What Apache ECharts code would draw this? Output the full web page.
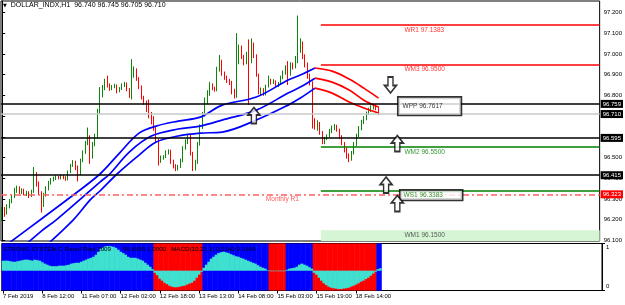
<!DOCTYPE html>
<html>
<head>
<meta charset="UTF-8">
<title>DOLLAR_INDX,H1</title>
<script src="https://cdn.jsdelivr.net/npm/echarts@6/dist/echarts.min.js"></script>
<style>
  html, body { margin: 0; padding: 0; background: #fff; }
  #main { width: 625px; height: 305px; }
</style>
</head>
<body>
<div id="main"></div>
<script type="text/javascript">
// time labels on the bottom axis, keyed by bar number
var timeLabels = {
  0: '7 Feb 2019', 16: '8 Feb 12:00', 32: '11 Feb 07:00', 48: '12 Feb 02:00',
  64: '12 Feb 18:00', 80: '13 Feb 13:00', 96: '14 Feb 08:00', 112: '15 Feb 03:00',
  128: '15 Feb 19:00', 144: '18 Feb 14:00'
};

// H1 candles: [open, close, low, high]
var bars = [
  [96.205,96.240,96.195,96.262],[96.240,96.230,96.215,96.262],[96.230,96.262,96.225,96.275],[96.262,96.290,96.255,96.300],
  [96.290,96.310,96.280,96.322],[96.310,96.340,96.305,96.355],[96.340,96.355,96.330,96.365],[96.355,96.335,96.325,96.362],
  [96.335,96.345,96.325,96.352],[96.345,96.325,96.318,96.350],[96.325,96.330,96.315,96.340],[96.330,96.318,96.305,96.338],
  [96.318,96.335,96.310,96.345],[96.335,96.420,96.330,96.455],[96.420,96.375,96.360,96.430],[96.375,96.330,96.320,96.385],
  [96.330,96.275,96.235,96.338],[96.275,96.320,96.262,96.330],[96.320,96.350,96.312,96.362],[96.350,96.378,96.342,96.388],
  [96.378,96.392,96.370,96.402],[96.392,96.398,96.385,96.408],[96.398,96.405,96.392,96.415],[96.405,96.400,96.395,96.412],
  [96.400,96.410,96.395,96.418],[96.410,96.402,96.396,96.416],[96.402,96.395,96.388,96.410],[96.395,96.430,96.390,96.438],
  [96.430,96.462,96.425,96.470],[96.462,96.475,96.455,96.488],[96.475,96.450,96.440,96.485],[96.450,96.420,96.385,96.462],
  [96.420,96.485,96.415,96.495],[96.485,96.525,96.478,96.535],[96.525,96.570,96.518,96.580],[96.570,96.600,96.560,96.645],
  [96.600,96.500,96.470,96.608],[96.500,96.565,96.495,96.575],[96.565,96.600,96.555,96.615],[96.600,96.720,96.590,96.735],
  [96.720,96.800,96.712,96.840],[96.800,96.835,96.790,96.850],[96.835,96.865,96.825,96.880],[96.865,96.845,96.838,96.895],
  [96.845,96.830,96.822,96.858],[96.830,96.842,96.825,96.850],[96.842,96.848,96.835,96.856],[96.848,96.822,96.810,96.852],
  [96.822,96.832,96.815,96.840],[96.832,96.848,96.826,96.858],[96.848,96.858,96.840,96.865],[96.858,96.828,96.820,96.862],
  [96.828,96.795,96.788,96.835],[96.795,96.895,96.780,96.975],[96.895,96.925,96.885,96.940],[96.925,96.880,96.870,96.930],
  [96.880,96.840,96.830,96.888],[96.840,96.790,96.780,96.848],[96.790,96.768,96.755,96.798],[96.768,96.730,96.720,96.775],
  [96.730,96.712,96.690,96.780],[96.712,96.690,96.660,96.720],[96.690,96.640,96.630,96.700],[96.640,96.580,96.570,96.650],
  [96.580,96.480,96.462,96.590],[96.480,96.500,96.475,96.510],[96.500,96.505,96.490,96.512],[96.505,96.525,96.498,96.535],
  [96.525,96.530,96.515,96.540],[96.530,96.480,96.470,96.538],[96.480,96.460,96.448,96.490],[96.460,96.445,96.435,96.468],
  [96.445,96.458,96.438,96.465],[96.458,96.485,96.450,96.495],[96.485,96.545,96.478,96.555],[96.545,96.575,96.538,96.588],
  [96.575,96.605,96.565,96.615],[96.605,96.520,96.510,96.612],[96.520,96.445,96.435,96.528],[96.445,96.475,96.438,96.490],
  [96.475,96.565,96.470,96.575],[96.565,96.645,96.558,96.660],[96.645,96.705,96.638,96.720],[96.705,96.765,96.698,96.790],
  [96.765,96.805,96.758,96.825],[96.805,96.850,96.798,96.865],[96.850,96.832,96.825,96.858],[96.832,96.825,96.818,96.842],
  [96.825,96.925,96.820,96.938],[96.925,96.965,96.915,96.995],[96.965,96.905,96.895,96.972],[96.905,96.885,96.875,96.915],
  [96.885,96.872,96.860,96.895],[96.872,96.862,96.850,96.880],[96.862,96.822,96.805,96.870],[96.822,96.795,96.785,96.832],
  [96.795,96.955,96.788,97.100],[96.955,97.030,96.950,97.045],[97.030,96.985,96.975,97.040],[96.985,96.960,96.945,96.995],
  [96.960,96.995,96.950,97.010],[96.995,96.960,96.755,97.070],[96.960,97.045,96.955,97.075],[97.045,96.990,96.980,97.055],
  [96.990,96.900,96.890,96.998],[96.900,96.820,96.805,96.905],[96.820,96.825,96.800,96.838],[96.825,96.805,96.798,96.835],
  [96.805,96.845,96.800,96.852],[96.845,96.870,96.838,96.895],[96.870,96.862,96.852,96.880],[96.862,96.868,96.855,96.878],
  [96.868,96.850,96.842,96.872],[96.850,96.858,96.840,96.865],[96.858,96.885,96.850,96.895],[96.885,96.910,96.878,96.920],
  [96.910,96.930,96.900,96.945],[96.930,96.900,96.850,96.965],[96.900,96.950,96.895,96.960],[96.950,96.935,96.925,96.958],
  [96.935,96.965,96.930,96.990],[96.965,97.020,96.955,97.185],[97.020,97.050,97.005,97.075],[97.050,96.990,96.975,97.060],
  [96.990,96.950,96.935,96.998],[96.950,96.895,96.880,96.958],[96.895,96.862,96.848,96.905],[96.862,96.660,96.640,96.868],
  [96.660,96.645,96.635,96.690],[96.645,96.665,96.630,96.680],[96.665,96.620,96.610,96.672],[96.620,96.580,96.565,96.628],
  [96.580,96.592,96.565,96.600],[96.592,96.605,96.585,96.612],[96.605,96.625,96.598,96.638],[96.625,96.642,96.618,96.655],
  [96.642,96.650,96.632,96.662],[96.650,96.632,96.625,96.658],[96.632,96.600,96.590,96.640],[96.600,96.570,96.560,96.608],
  [96.570,96.540,96.525,96.575],[96.540,96.510,96.495,96.548],[96.510,96.500,96.478,96.520],[96.500,96.525,96.485,96.532],
  [96.525,96.565,96.515,96.575],[96.565,96.605,96.555,96.615],[96.605,96.640,96.598,96.652],[96.640,96.670,96.632,96.682],
  [96.670,96.690,96.662,96.700],[96.690,96.712,96.680,96.722],[96.712,96.728,96.705,96.740],[96.728,96.742,96.720,96.752],
  [96.742,96.748,96.732,96.758],[96.748,96.740,96.728,96.756],[96.740,96.710,96.705,96.745]
];

// moving-average envelope as [bar, price]
var upperUp = [[0,96.064],[16,96.204],[28,96.310],[40,96.421],[48,96.522],[56,96.618],[63,96.652],[72,96.676],[81,96.695],[90,96.753],[104,96.792],[117,96.874],[122,96.898],[128,96.932]];
var upperDown = [[128,96.932],[135,96.917],[142,96.879],[148,96.835],[154,96.787]];
var middleUp = [[0,95.980],[16,96.146],[22,96.199],[40,96.382],[44,96.421],[52,96.527],[61,96.604],[72,96.638],[81,96.652],[90,96.681],[104,96.729],[117,96.811],[122,96.840],[128,96.883]];
var middleDown = [[128,96.883],[135,96.864],[142,96.826],[148,96.777],[154,96.744]];
var lowerUp = [[0,95.890],[16,96.055],[29,96.199],[36,96.296],[40,96.339],[47,96.421],[56,96.512],[63,96.575],[72,96.604],[81,96.618],[90,96.623],[104,96.681],[117,96.753],[122,96.787],[128,96.835]];
var lowerDown = [[128,96.835],[135,96.811],[142,96.768],[148,96.739],[154,96.715]];

// weekly pivots
var pivotNames = ['WR1', 'WM3', 'WPP', 'WM2', 'WS1', 'WM1'];
var pivotValues = [97.1383, 96.9500, 96.7617, 96.5500, 96.3383, 96.1500];
var weekStart = 130.4;           // bar where the weekly levels begin
var hLines = [96.759, 96.595, 96.415];
var bidPrice = 96.710;
var monthlyR1 = 96.323;
var upArrows = [[103.0, 96.703], [161.7, 96.568], [157.1, 96.368], [161.7, 96.279]];
var downArrows = [[158.9, 96.850]];

// lower window: trend blocks (1 blue / -1 red) as runs [first, last, sign] and MACD values
var trendRuns = [[0, 61, 1], [62, 81, -1], [82, 108, 1], [109, 115, -1], [116, 126, 1], [127, 152, -1], [153, 154, 1]];
var macd = [
  0.058,0.058,0.058,0.055,0.052,0.052,0.055,0.058,0.061,0.064,
  0.064,0.061,0.058,0.064,0.061,0.058,0.049,0.041,0.035,0.029,
  0.026,0.026,0.026,0.029,0.029,0.029,0.032,0.035,0.041,0.044,
  0.046,0.046,0.052,0.058,0.064,0.070,0.075,0.081,0.093,0.110,
  0.128,0.136,0.142,0.143,0.142,0.139,0.133,0.122,0.110,0.102,
  0.093,0.081,0.075,0.075,0.075,0.070,0.064,0.058,0.046,0.035,
  0.023,0.009,-0.012,-0.026,-0.046,-0.058,-0.070,-0.078,-0.087,-0.093,
  -0.096,-0.096,-0.093,-0.090,-0.087,-0.081,-0.075,-0.070,-0.058,-0.041,
  -0.023,-0.006,0.017,0.035,0.052,0.070,0.081,0.093,0.102,0.107,
  0.110,0.107,0.102,0.096,0.090,0.084,0.081,0.075,0.070,0.064,
  0.058,0.052,0.046,0.041,0.032,0.023,0.017,0.012,0.003,-0.003,
  -0.003,-0.003,-0.003,-0.003,-0.003,-0.003,0.006,0.012,0.015,0.017,
  0.023,0.035,0.041,0.035,0.029,0.020,0.012,-0.012,-0.023,-0.041,
  -0.058,-0.073,-0.084,-0.093,-0.099,-0.102,-0.104,-0.107,-0.107,-0.104,
  -0.102,-0.099,-0.093,-0.087,-0.081,-0.073,-0.064,-0.058,-0.049,-0.041,
  -0.029,-0.017,-0.006,0.009,0.014
];
var priceTicks = [96.1, 96.2, 96.3, 96.4, 96.5, 96.6, 96.7, 96.8, 96.9, 97.0, 97.1, 97.2];

var SLOTS = 245;   // bars plus the empty chart shift on the right
var FONT = 'Liberation Sans';
var categories = [];
for (var k = 0; k < SLOTS; k++) categories.push(String(k));

var trend = [];
trendRuns.forEach(function (r) {
  for (var b = r[0]; b <= r[1]; b++) trend[b] = r[2];
});
var blocks = trend.map(function (t) {
  return { value: 1, itemStyle: { color: t > 0 ? '#0000ff' : '#ff0000' } };
});

var pivotStyle = {
  WR1: { color: '#ff0000', line: true },
  WM3: { color: '#ff0000', line: true },
  WPP: { color: '#000000', line: false },
  WM2: { color: '#008000', line: true },
  WS1: { color: '#008000', line: true },
  WM1: { color: '#333333', line: false }
};

function axisTag(text, bg) {
  return { show: true, position: 'end', distance: 1, formatter: text,
    backgroundColor: bg, color: '#fff', padding: [1, 2], fontSize: 6, fontFamily: FONT };
}

var markLines = [];
hLines.forEach(function (v) {
  markLines.push({ yAxis: v, lineStyle: { color: '#000', width: 1.6, type: 'solid' }, label: axisTag(v.toFixed(3), '#000') });
});
markLines.push({ yAxis: bidPrice, lineStyle: { color: '#c8c8c8', width: 1.5, type: 'solid' }, label: axisTag(bidPrice.toFixed(3), '#000') });
markLines.push({ yAxis: monthlyR1, lineStyle: { color: '#ff6060', width: 1.5, type: [6, 3, 2, 3] }, label: axisTag(monthlyR1.toFixed(3), '#ff0000') });
pivotNames.forEach(function (n, k) {
  if (!pivotStyle[n].line) return;
  markLines.push([
    { coord: [weekStart, pivotValues[k]], lineStyle: { color: pivotStyle[n].color, width: 1.5, type: 'solid' }, label: { show: false } },
    { coord: [SLOTS - 0.5, pivotValues[k]] }
  ]);
});

var pivotLabels = pivotNames.map(function (n, k) {
  var item = {
    name: n,
    value: [164.6, pivotValues[k]],
    label: { color: pivotStyle[n].color, offset: [0, 4.5] }
  };
  if (n === 'WPP') {
    item.value = [162.2, pivotValues[k]];
    item.label = { color: '#000', offset: [0, 2.8], backgroundColor: '#fff', borderColor: '#000',
      borderWidth: 1.6, padding: [5, 18, 5, 4] };
  }
  if (n === 'WS1') {
    item.value = [163.0, pivotValues[k]];
    item.label = { color: '#008000', offset: [0, 4], backgroundColor: '#fff', borderColor: '#000',
      borderWidth: 1.6, padding: [1, 19, 1, 3] };
  }
  return item;
});
pivotLabels.push({
  name: 'Monthly R1',
  value: [107.9, monthlyR1],
  label: { color: '#ff3030', offset: [0, 4.5], formatter: 'Monthly R1' }
});

var upPath = 'path://M6,0 L12,7 L8.5,7 L8.5,15 L3.5,15 L3.5,7 L0,7 Z';
var downPath = 'path://M3.5,0 L8.5,0 L8.5,8 L12,8 L6,15 L0,8 L3.5,8 Z';

function envelope(data, color) {
  return {
    type: 'line', xAxisIndex: 1, yAxisIndex: 0, data: data, smooth: 0.35,
    showSymbol: false, symbol: 'none', silent: true, z: 3,
    lineStyle: { color: color, width: 1.7 }
  };
}

var labelEvery = function (index) { return timeLabels[index] !== undefined; };

var myChart = echarts.init(document.getElementById('main'));
var option = {
  animation: false,
  backgroundColor: '#fff',
  textStyle: { fontFamily: FONT },
  title: [
    {
      text: '{t|▼}  DOLLAR_INDX,H1  96.740 96.745 96.705 96.710',
      left: 3, top: 2, padding: 0,
      textStyle: { fontSize: 7, fontWeight: 'normal', color: '#000', fontFamily: FONT,
        rich: { t: { fontSize: 5, fontFamily: 'DejaVu Sans', color: '#000' } } }
    },
    {
      text: 'STRONG SYSTEM C Raouf Riad 2009       96.6569 1.0000   MACD(10,21,1) 0.0140 0.0140',
      left: 3, top: 246.5, padding: 0,
      textStyle: { fontSize: 6.2, fontWeight: 'normal', color: '#000', fontFamily: FONT }
    }
  ],
  grid: [
    { left: 1, top: 1, width: 601, height: 240, show: true, borderColor: '#000', borderWidth: 1 },
    { left: 1, top: 243.5, width: 601, height: 47, show: true, borderColor: '#000', borderWidth: 1 }
  ],
  xAxis: [
    { type: 'category', gridIndex: 0, data: categories, boundaryGap: true, show: false },
    { type: 'value', gridIndex: 0, min: -0.5, max: SLOTS - 0.5, show: false },
    {
      type: 'category', gridIndex: 1, data: categories, boundaryGap: true,
      axisLine: { show: true, lineStyle: { color: '#000', width: 1 } },
      axisTick: { show: true, alignWithLabel: true, interval: labelEvery, length: 3, lineStyle: { color: '#000' } },
      axisLabel: {
        interval: labelEvery, align: 'left', margin: 3, fontSize: 6, color: '#000', fontFamily: FONT,
        formatter: function (value, index) { return timeLabels[index] || ''; }
      },
      splitLine: { show: false }
    }
  ],
  yAxis: [
    {
      type: 'value', gridIndex: 0, position: 'right', min: 96.098, max: 97.255, scale: true,
      splitLine: { show: false },
      axisLine: { show: true, lineStyle: { color: '#000' } },
      axisTick: { show: true, length: 3, customValues: priceTicks, lineStyle: { color: '#000' } },
      axisLabel: { customValues: priceTicks, margin: 4, fontSize: 6, color: '#000', fontFamily: FONT,
        formatter: function (v) { return v.toFixed(3); } }
    },
    {
      type: 'value', gridIndex: 1, position: 'right', min: 0, max: 1,
      splitLine: { show: false },
      axisLine: { show: true, lineStyle: { color: '#000' } },
      axisTick: { show: true, length: 3, customValues: [0, 1], lineStyle: { color: '#000' } },
      axisLabel: {
        customValues: [0, 1], margin: 4, fontSize: 6, color: '#000', fontFamily: FONT,
        formatter: function (v) { return v > 0.5 ? '{t|1}' : '{b|0}'; },
        rich: { t: { padding: [8, 0, 0, 0], fontSize: 6 }, b: { padding: [0, 0, 8, 0], fontSize: 6 } }
      }
    },
    { type: 'value', gridIndex: 1, min: -0.115, max: 0.158, show: false, splitLine: { show: false } }
  ],
  series: [
    {
      type: 'candlestick', xAxisIndex: 0, yAxisIndex: 0, data: bars, barWidth: 1, z: 2, silent: true,
      itemStyle: { color: '#0a870a', color0: '#ff0000', borderColor: '#0a870a', borderColor0: '#ff0000', borderWidth: 1 }
    },
    envelope(upperUp, '#0000ff'), envelope(middleUp, '#0000ff'), envelope(lowerUp, '#0000ff'),
    envelope(upperDown, '#ff0000'), envelope(middleDown, '#ff0000'), envelope(lowerDown, '#ff0000'),
    {
      type: 'scatter', xAxisIndex: 1, yAxisIndex: 0, data: pivotLabels, symbolSize: 0, z: 6, silent: true,
      label: {
        show: true, position: 'right', distance: 0, fontSize: 6.5, fontFamily: FONT,
        formatter: function (p) { return p.name + ' ' + p.value[1].toFixed(4); }
      },
      markLine: { symbol: 'none', silent: true, z: 4, precision: 4, data: markLines },
      markArea: {
        silent: true, z: 1,
        itemStyle: { color: '#d5f5d5' },
        data: [[{ coord: [weekStart, pivotValues[5]] }, { coord: [SLOTS - 0.5, 96.098] }]]
      }
    },
    {
      type: 'scatter', xAxisIndex: 1, yAxisIndex: 0, data: upArrows, symbol: upPath, symbolSize: [12, 16], z: 7, silent: true,
      itemStyle: { color: '#fff', borderColor: '#000', borderWidth: 1.6 }
    },
    {
      type: 'scatter', xAxisIndex: 1, yAxisIndex: 0, data: downArrows, symbol: downPath, symbolSize: [12, 16], z: 7, silent: true,
      itemStyle: { color: '#fff', borderColor: '#000', borderWidth: 1.6 }
    },
    {
      type: 'bar', xAxisIndex: 2, yAxisIndex: 1, data: blocks, barWidth: 3, barGap: '-100%', silent: true, z: 2
    },
    {
      type: 'bar', xAxisIndex: 2, yAxisIndex: 2, data: macd, barWidth: 3, barGap: '-100%', silent: true, z: 3,
      itemStyle: { color: '#40e0d0' }
    }
  ]
};
myChart.setOption(option);
</script>
</body>
</html>
